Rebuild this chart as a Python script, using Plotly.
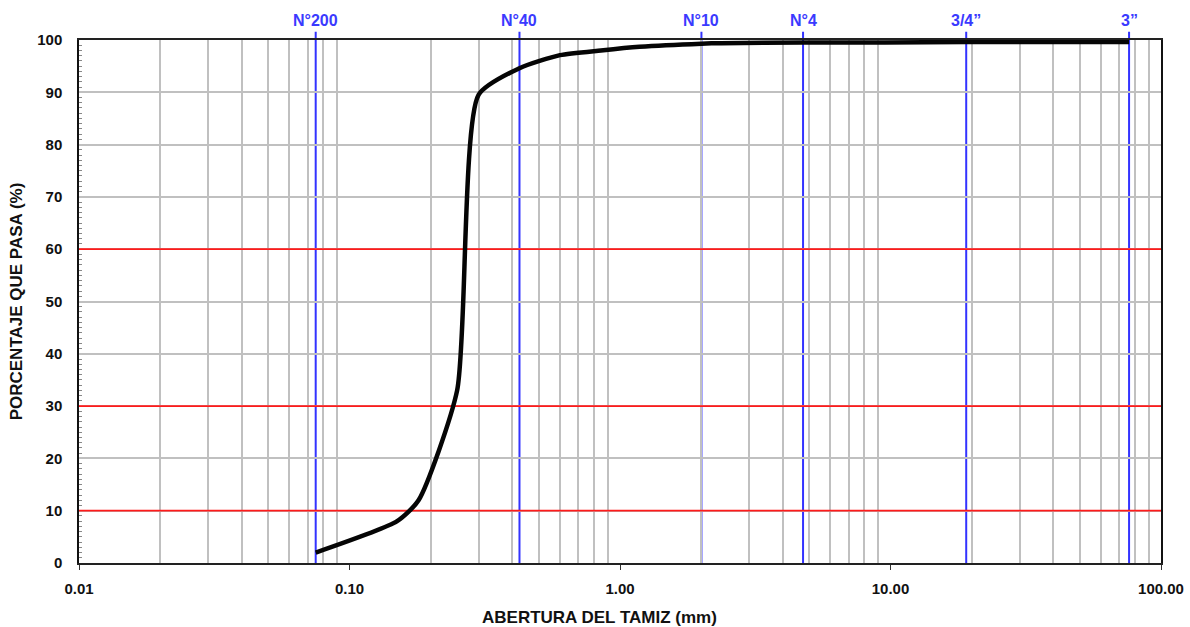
import math
import plotly.graph_objects as go

# Data
abertura_mm = [0.075, 0.15, 0.18, 0.25, 0.30, 0.425, 0.60, 0.85, 1.18, 2.00, 2.36, 4.75, 9.50, 19.05, 25.40, 76.20]
pct_pasa = [2.0, 8.0, 12.0, 33.0, 89.5, 94.6, 97.1, 98.0, 98.7, 99.3, 99.4, 99.5, 99.5, 99.6, 99.6, 99.6]

tamiz_nombres = ["N°200", "N°40", "N°10", "N°4", "3/4\u201d", "3\u201d"]
tamiz_mm = [0.075, 0.425, 2.00, 4.75, 19.05, 76.20]

limites_y = [10, 30, 60]

x_major = [0.01, 0.1, 1, 10, 100]
x_major_text = ["0.01", "0.10", "1.00", "10.00", "100.00"]
x_minor = [m * d for d in [0.01, 0.1, 1, 10] for m in range(2, 10)]

FAM = "Liberation Sans, Arial, sans-serif"
font_tick = dict(family=FAM, size=15, color="#111111", weight="bold")
font_title = dict(family=FAM, size=17, color="#111111", weight="bold")

fig = go.Figure()

for name, xv in zip(tamiz_nombres, tamiz_mm):
    fig.add_shape(type="line", xref="x", yref="paper", x0=xv, x1=xv, y0=0, y1=1.016,
                  line=dict(color="#3333ff", width=2), layer="between")
    fig.add_annotation(x=math.log10(xv), xref="x", y=1.0, yref="paper", yshift=30, text=name,
                       showarrow=False,
                       font=dict(family=FAM, size=16, color="#3a3aff", weight="bold"))

for y in limites_y:
    fig.add_shape(type="line", xref="x", yref="y", x0=0.01, x1=100, y0=y, y1=y,
                  line=dict(color="#ff1a1a", width=1.8), layer="between")

fig.add_trace(go.Scatter(
    x=abertura_mm, y=pct_pasa, mode="lines",
    line=dict(color="#050505", width=4.5, shape="spline", smoothing=0.6),
    showlegend=False, hoverinfo="x+y"))

fig.add_annotation(x=(599 - 79) / (1161 - 79), xref="paper", y=0, yref="paper", yshift=-66,
                   text="ABERTURA DEL TAMIZ (mm)", showarrow=False, font=font_title)

fig.update_layout(
    width=1190, height=627,
    margin=dict(l=79, r=29, t=40, b=64),
    paper_bgcolor="white", plot_bgcolor="white",
    showlegend=False,
)

fig.update_xaxes(
    type="log", range=[-2, 2], automargin=False,
    tickmode="array", tickvals=x_major, ticktext=x_major_text,
    tickfont=font_tick, ticks="outside", ticklen=5, tickcolor="#333333",
    ticklabelstandoff=6,
    showgrid=False,
    minor=dict(tickvals=x_minor, showgrid=True, gridcolor="#c0c0c0", gridwidth=1.5, ticks=""),
    showline=True, linecolor="#222222", linewidth=1.5, mirror=True,
    zeroline=False,
)

fig.update_yaxes(
    range=[0, 100], dtick=10, tickfont=font_tick, automargin=False,
    showgrid=True, gridcolor="#c0c0c0", gridwidth=1.5,
    ticks="", ticklabelstandoff=12,
    minor=dict(dtick=1, ticks="inside", ticklen=3, tickcolor="#888888", showgrid=False),
    showline=True, linecolor="#111111", linewidth=1.5, mirror=True,
    zeroline=False,
    title=dict(text="PORCENTAJE QUE PASA (%)", font=font_title, standoff=10),
)

fig.write_html("out.html")
